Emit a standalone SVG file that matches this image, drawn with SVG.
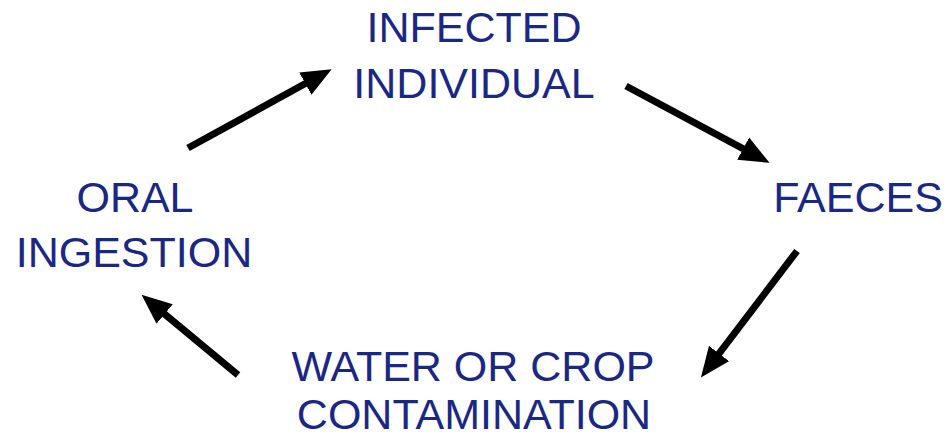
<svg xmlns="http://www.w3.org/2000/svg" width="945" height="439" viewBox="0 0 945 439">
<style>
.lbl{font-family:"Liberation Sans",Arial,sans-serif;font-size:43px;fill:#1a2784;text-anchor:middle}
.arr{stroke:#000;stroke-width:7;fill:none;marker-end:url(#ah)}
</style>
<defs>
<marker id="ah" markerUnits="userSpaceOnUse" markerWidth="30" markerHeight="26" refX="14" refY="11" orient="auto" viewBox="0 0 26 22">
<path d="M0,0 L26,11 L0,22 z" fill="#000"/>
</marker>
</defs>
<rect width="945" height="439" fill="#fff"/>
<g id="infected"><text class="lbl" x="474" y="42">INFECTED</text><text class="lbl" x="474" y="98">INDIVIDUAL</text></g>
<g id="faeces"><text class="lbl" x="858" y="212">FAECES</text></g>
<g id="water"><text class="lbl" x="473" y="381">WATER OR CROP</text><text class="lbl" x="474" y="429">CONTAMINATION</text></g>
<g id="oral"><text class="lbl" x="135" y="212">ORAL</text><text class="lbl" x="134" y="267">INGESTION</text></g>
<g id="connectors">
<path class="arr" d="M188,148 L319.5,75.8"/>
<path class="arr" d="M626,86 L757.4,156.3"/>
<path class="arr" d="M797,251 L709.3,366.4"/>
<path class="arr" d="M238,375 L152.2,303.7"/>
</g>
</svg>
